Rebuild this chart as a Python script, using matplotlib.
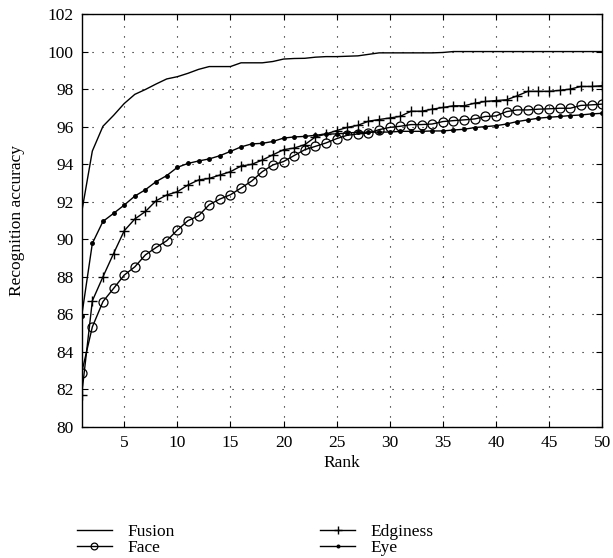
import numpy as np
import matplotlib
matplotlib.use('Agg')
import matplotlib.pyplot as plt

# 数据
rank = np.arange(1, 51)

fusion = [91.45, 94.7, 96.02, 96.6, 97.23, 97.72, 97.98, 98.27, 98.54, 98.66,
          98.84, 99.05, 99.2, 99.2, 99.2, 99.4, 99.4, 99.4, 99.47, 99.6,
          99.63, 99.64, 99.7, 99.73, 99.73, 99.75, 99.77, 99.85, 99.93, 99.93,
          99.93, 99.93, 99.93, 99.93, 99.95, 100.0, 100.0, 100.0, 100.0, 100.0,
          100.0, 100.0, 100.0, 100.0, 100.0, 100.0, 100.0, 100.0, 100.0, 100.0]

face = [82.9, 85.33, 86.68, 87.38, 88.09, 88.53, 89.17, 89.56, 89.92, 90.49,
        90.99, 91.25, 91.84, 92.14, 92.37, 92.73, 93.1, 93.6, 93.96, 94.14,
        94.46, 94.77, 94.95, 95.13, 95.36, 95.54, 95.61, 95.66, 95.84, 95.96,
        96.02, 96.11, 96.11, 96.14, 96.27, 96.32, 96.36, 96.41, 96.54, 96.57,
        96.8, 96.89, 96.89, 96.93, 96.95, 96.98, 96.98, 97.13, 97.16, 97.2]

edginess = [81.73, 86.72, 88.0, 89.24, 90.45, 91.08, 91.48, 92.05, 92.36, 92.53,
            92.89, 93.16, 93.24, 93.42, 93.6, 93.9, 93.99, 94.22, 94.5, 94.77,
            94.86, 95.04, 95.45, 95.61, 95.79, 95.96, 96.07, 96.29, 96.38, 96.46,
            96.55, 96.82, 96.82, 96.93, 97.02, 97.11, 97.11, 97.25, 97.34, 97.39,
            97.43, 97.64, 97.88, 97.88, 97.88, 97.93, 98.0, 98.14, 98.14, 98.18]

eye = [85.92, 89.78, 90.95, 91.38, 91.82, 92.3, 92.64, 93.07, 93.39, 93.83,
       94.04, 94.17, 94.28, 94.45, 94.68, 94.92, 95.08, 95.11, 95.21, 95.39,
       95.45, 95.48, 95.54, 95.61, 95.61, 95.66, 95.7, 95.7, 95.71, 95.71,
       95.75, 95.75, 95.75, 95.77, 95.77, 95.82, 95.86, 95.95, 96.0, 96.05,
       96.14, 96.27, 96.36, 96.45, 96.5, 96.54, 96.59, 96.62, 96.68, 96.71]

x_ticks = np.arange(5, 51, 5)
y_ticks = np.arange(80, 103, 2)

plt.rcParams['font.family'] = ['Liberation Serif', 'DejaVu Serif']
plt.rcParams['font.size'] = 12.5

fig = plt.figure(figsize=(6.13, 5.58), dpi=100)
ax = fig.add_axes([0.1333, 0.2348, 0.849, 0.7401])

ax.plot(rank, fusion, color='k', lw=1.0, label='Fusion')
ax.plot(rank, face, color='k', lw=1.0, marker='o', markersize=6.5,
        markerfacecolor='none', markeredgewidth=0.9, label='Face')
ax.plot(rank, edginess, color='k', lw=1.0, marker='+', markersize=7,
        markeredgewidth=1.0, label='Edginess')
ax.plot(rank, eye, color='k', lw=1.0, marker='.', markersize=5, label='Eye')

ax.set_xlim(1, 50)
ax.set_ylim(80, 102)
ax.set_xticks(x_ticks)
ax.set_yticks(y_ticks)
ax.tick_params(direction='in', top=True, right=True, length=4, width=0.8, pad=6)
ax.grid(True, color='k', linestyle=(0, (1, 8)), linewidth=0.8)
for s in ax.spines.values():
    s.set_linewidth(1.0)

ax.set_xlabel('Rank', labelpad=3)
ax.set_ylabel('Recognition accuracy', labelpad=16)

leg = fig.legend(loc='lower left', bbox_to_anchor=(0.1, -0.024), ncol=2, frameon=False,
                 handlelength=2.0, columnspacing=8.4, labelspacing=0.0, handletextpad=0.9,
                 markerscale=0.75)

fig.savefig('out.png', dpi=100)
